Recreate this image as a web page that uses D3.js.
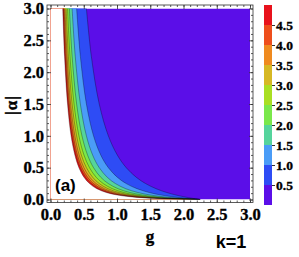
<!DOCTYPE html>
<html>
<head>
<meta charset="utf-8">
<script src="https://cdn.jsdelivr.net/npm/d3@7"></script>
<style>
  html, body { margin: 0; padding: 0; background: #fff; }
  svg { display: block; }
</style>
</head>
<body>
<div id="chart"></div>
<script>
// contour levels of the plotted quantity (k = 1)
const levels = [0.5, 1, 1.5, 2, 2.5, 3, 3.5, 4, 4.5, 5];
// |alpha| rows at which each contour's g position was read
const alphaRows = [3, 2.25, 1.5, 1, 0.7, 0.5, 0.35, 0.25, 0.17, 0.11, 0.07, 0.04, 0.02, 0];
// g position of each contour line, one array per level
const g05 = [0.540, 0.614, 0.733, 0.870, 1.004, 1.139, 1.289, 1.430, 1.587, 1.748, 1.888, 2.020, 2.125, 2.25];
const g10 = [0.393, 0.449, 0.540, 0.647, 0.755, 0.870, 1.004, 1.139, 1.301, 1.483, 1.662, 1.850, 2.020, 2.25];
const g15 = [0.325, 0.372, 0.449, 0.540, 0.633, 0.733, 0.853, 0.977, 1.131, 1.313, 1.503, 1.718, 1.929, 2.25];
const g20 = [0.284, 0.325, 0.393, 0.473, 0.557, 0.647, 0.755, 0.870, 1.015, 1.192, 1.383, 1.611, 1.850, 2.25];
const g25 = [0.256, 0.293, 0.354, 0.427, 0.503, 0.586, 0.686, 0.793, 0.930, 1.100, 1.289, 1.522, 1.780, 2.25];
const g30 = [0.235, 0.269, 0.325, 0.393, 0.463, 0.540, 0.633, 0.733, 0.863, 1.027, 1.212, 1.448, 1.718, 2.25];
const g35 = [0.218, 0.250, 0.302, 0.366, 0.431, 0.503, 0.591, 0.686, 0.809, 0.967, 1.147, 1.383, 1.662, 2.25];
const g40 = [0.205, 0.235, 0.284, 0.344, 0.405, 0.473, 0.557, 0.647, 0.765, 0.917, 1.093, 1.326, 1.611, 2.25];
const g45 = [0.194, 0.222, 0.269, 0.325, 0.384, 0.449, 0.528, 0.614, 0.727, 0.874, 1.045, 1.277, 1.565, 2.25];
const g50 = [0.184, 0.211, 0.256, 0.309, 0.366, 0.427, 0.503, 0.586, 0.695, 0.837, 1.004, 1.232, 1.522, 2.25];

// fill colour of each band, from [0,0.5] up to [4.5,5]
const bandColors = ['#5b0ee8', '#2e4cf5', '#4a9cf7', '#55d49c', '#7ae84b',
                    '#a9df22', '#d6b824', '#ef8a1f', '#ee4e1c', '#e8121c'];
const xTicks = [0, 0.5, 1, 1.5, 2, 2.5, 3];
const yTicks = [0, 0.5, 1, 1.5, 2, 2.5, 3];
const barTicks = [0.5, 1, 1.5, 2, 2.5, 3, 3.5, 4, 4.5];

const contourG = [g05, g10, g15, g20, g25, g30, g35, g40, g45, g50];

const serif = '"Liberation Serif", "Times New Roman", serif';
const sans = '"Liberation Sans", Arial, sans-serif';

const width = 299, height = 257;
const frame = { left: 47, right: 253, top: 5, bottom: 202.5 };

const svg = d3.select('#chart')
    .append('svg')
    .attr('width', width)
    .attr('height', height);

const x = d3.scaleLinear().domain([0, 3]).range([50.5, 250]);
const y = d3.scaleLinear().domain([0, 3]).range([199.5, 8.5]);

svg.append('clipPath')
    .attr('id', 'plot-clip')
    .append('rect')
    .attr('x', x(0)).attr('y', y(3))
    .attr('width', x(3) - x(0)).attr('height', y(0) - y(3));

const plot = svg.append('g').attr('clip-path', 'url(#plot-clip)');

// lowest band fills the whole plot range
plot.append('rect')
    .attr('x', x(0)).attr('y', y(3))
    .attr('width', x(3) - x(0)).attr('height', y(0) - y(3))
    .attr('fill', bandColors[0]);

const curve = d3.line()
    .x(d => x(d[0]))
    .y(d => y(d[1]))
    .curve(d3.curveCatmullRom.alpha(0.5));

const contourPoints = contourG.map(gs => alphaRows.map((a, j) => [gs[j], a]));

// each level covers everything left of / below its line, stacked upwards
plot.selectAll('path.band')
    .data(contourPoints)
    .join('path')
    .attr('class', 'band')
    .attr('fill', (d, i) => i + 1 < bandColors.length ? bandColors[i + 1] : '#fff')
    .attr('d', d => curve(d) + `L${x(-0.1)},${y(0)}L${x(-0.1)},${y(3.1)}L${x(d[0][0])},${y(3.1)}Z`);

plot.selectAll('path.line')
    .data(contourPoints)
    .join('path')
    .attr('class', 'line')
    .attr('fill', 'none')
    .attr('stroke', 'rgba(0,0,0,0.5)')
    .attr('stroke-width', 0.6)
    .attr('d', d => curve(d));

// frame with inward ticks on all four sides
svg.append('rect')
    .attr('x', frame.left).attr('y', frame.top)
    .attr('width', frame.right - frame.left)
    .attr('height', frame.bottom - frame.top)
    .attr('fill', 'none')
    .attr('stroke', '#333')
    .attr('stroke-width', 0.8);

const minorTicks = d3.range(0, 31).map(i => i / 10);

// heavy bold serif, like the exported figure's labels
function boldSerif(sel, size) {
    sel.attr('font-family', serif)
        .attr('font-weight', 'bold')
        .attr('font-size', size)
        .attr('fill', '#000')
        .attr('stroke', '#000')
        .attr('stroke-width', 0.35);
}

function frameAxis(axis, transform, values, size, labels) {
    const a = svg.append('g')
        .attr('transform', transform)
        .call(axis.tickValues(values).tickSize(-size).tickPadding(labels ? labels : 0)
            .tickFormat(labels ? d3.format('.1f') : ''));
    a.select('.domain').remove();
    a.selectAll('.tick line').attr('stroke', '#333').attr('stroke-width', 0.8);
    a.selectAll('text').call(boldSerif, 16.5);
    return a;
}

frameAxis(d3.axisBottom(x), `translate(0,${frame.bottom})`, minorTicks, 2, 0);
frameAxis(d3.axisTop(x), `translate(0,${frame.top})`, minorTicks, 2, 0);
frameAxis(d3.axisLeft(y), `translate(${frame.left},0)`, minorTicks, 2, 0);
frameAxis(d3.axisRight(y), `translate(${frame.right},0)`, minorTicks, 2, 0);

frameAxis(d3.axisTop(x), `translate(0,${frame.top})`, xTicks, 4, 0);
frameAxis(d3.axisRight(y), `translate(${frame.right},0)`, yTicks, 4, 0);
frameAxis(d3.axisBottom(x), `translate(0,${frame.bottom})`, xTicks, 4, 6);
frameAxis(d3.axisLeft(y), `translate(${frame.left},0)`, yTicks, 4, 3);

// colour bar
const bar = d3.scaleLinear().domain([0, 5]).range([205, 5]);
svg.append('g')
    .selectAll('rect')
    .data(bandColors)
    .join('rect')
    .attr('x', 264)
    .attr('y', (d, i) => bar(levels[i]))
    .attr('width', 8)
    .attr('height', (d, i) => bar(i ? levels[i - 1] : 0) - bar(levels[i]))
    .attr('fill', d => d);

const barAxis = svg.append('g')
    .attr('transform', 'translate(272,0)')
    .call(d3.axisRight(bar).tickValues(barTicks).tickSize(3).tickPadding(1).tickFormat(d3.format('.1f')));
barAxis.select('.domain').remove();
barAxis.selectAll('.tick line').attr('stroke', '#333');
barAxis.selectAll('text').call(boldSerif, 13.5);

// labels
svg.append('text')
    .attr('transform', 'translate(17,105) rotate(-90)')
    .attr('text-anchor', 'middle')
    .attr('letter-spacing', 1)
    .call(boldSerif, 17)
    .text('|α|');

svg.append('text')
    .attr('x', 150).attr('y', 242)
    .attr('text-anchor', 'middle')
    .call(boldSerif, 17)
    .text('g');

svg.append('text')
    .attr('x', 231).attr('y', 248)
    .attr('text-anchor', 'middle')
    .attr('font-family', sans)
    .attr('font-weight', 'bold')
    .attr('font-size', 18)
    .text('k=1');

svg.append('text')
    .attr('x', 55).attr('y', 191)
    .attr('font-family', sans)
    .attr('font-weight', 'bold')
    .attr('font-size', 17)
    .text('(a)');
</script>
</body>
</html>
